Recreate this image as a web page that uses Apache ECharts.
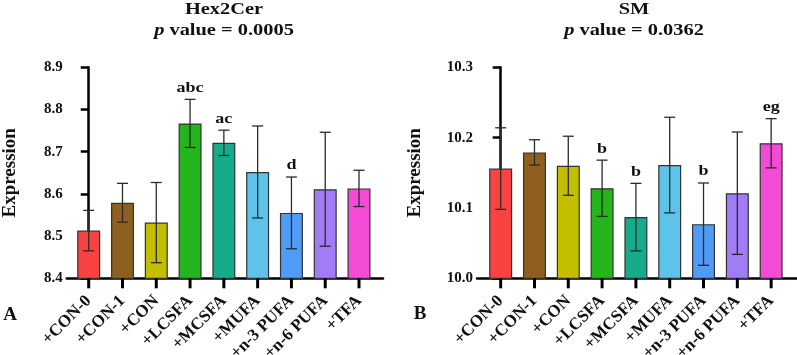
<!DOCTYPE html>
<html>
<head>
<meta charset="utf-8">
<style>
html,body{margin:0;padding:0;background:#fff;}
#chart{width:797px;height:355px;}
</style>
<script src="https://cdn.jsdelivr.net/npm/echarts@6/dist/echarts.min.js"></script>
</head>
<body>
<div id="chart"></div>
<script>
const categories = ['+CON-0','+CON-1','+CON','+LCSFA','+MCSFA','+MUFA','+n-3 PUFA','+n-6 PUFA','+TFA'];
const barColors = ['#F94242','#8E5F1E','#C4BE00','#23B51B','#16AC8B','#5DC3E8','#4F9CF6','#A07CF7','#F44BD7'];

const hexMean = [8.513, 8.579, 8.532, 8.767, 8.721, 8.652, 8.555, 8.611, 8.613];
const hexSD   = [0.048, 0.046, 0.095, 0.057, 0.030, 0.109, 0.085, 0.135, 0.043];
const hexLetters = ['', '', '', 'abc', 'ac', '', 'd', '', ''];
const hexTicks = [8.4, 8.5, 8.6, 8.7, 8.8, 8.9];

const smMean = [10.156, 10.179, 10.160, 10.128, 10.087, 10.161, 10.077, 10.121, 10.192];
const smSD   = [0.058, 0.018, 0.042, 0.040, 0.048, 0.068, 0.0585, 0.087, 0.035];
const smLetters = ['', '', '', 'b', 'b', '', 'b', '', 'eg'];
const smTicks = [10.0, 10.1, 10.2, 10.3];

const FONT = '"Liberation Serif", "Times New Roman", serif';
const idx = categories.map((c, i) => i);

function barData(means) {
  return means.map((v, i) => ({ value: [i, v], itemStyle: { color: barColors[i] } }));
}
function errData(means, sds) {
  return means.map((v, i) => [i, v, sds[i]]);
}
function makeErrRender(letters) {
  return function (params, api) {
    const x = api.value(0), m = api.value(1), e = api.value(2);
    const top = api.coord([x, m + e]);
    const bot = api.coord([x, m - e]);
    const cw = 5.5;
    const st = { stroke: '#2b2b2b', lineWidth: 1.3 };
    const children = [
      { type: 'line', shape: { x1: top[0], y1: top[1], x2: bot[0], y2: bot[1] }, style: st },
      { type: 'line', shape: { x1: top[0] - cw, y1: top[1], x2: top[0] + cw, y2: top[1] }, style: st },
      { type: 'line', shape: { x1: bot[0] - cw, y1: bot[1], x2: bot[0] + cw, y2: bot[1] }, style: st }
    ];
    const lt = letters[params.dataIndex];
    if (lt) {
      children.push({
        type: 'text', x: top[0], y: top[1] - 4, scaleX: 1.2,
        style: {
          text: lt, x: 0, y: 0, align: 'center', verticalAlign: 'bottom',
          font: 'bold 15px ' + FONT, fill: '#111'
        }
      });
    }
    return { type: 'group', children: children };
  };
}

function xAxisCfg(gridIndex, min, max) {
  return {
    type: 'value', gridIndex: gridIndex, min: min, max: max,
    splitLine: { show: false },
    axisLine: { show: true, onZero: false, lineStyle: { color: '#000', width: 2.5 } },
    axisTick: { show: false },
    axisLabel: {
      customValues: idx, rotate: 45, margin: 20,
      formatter: v => categories[Math.round(v)],
      fontFamily: FONT, fontWeight: 'bold', fontSize: 17, color: '#111'
    }
  };
}
function yAxisCfg(gridIndex, ticks, gap) {
  return {
    type: 'value', gridIndex: gridIndex,
    min: ticks[0], max: ticks[ticks.length - 1], interval: 0.1,
    name: 'Expression', nameLocation: 'middle', nameGap: gap,
    nameTextStyle: { fontFamily: FONT, fontWeight: 'bold', fontSize: 19, color: '#111' },
    splitLine: { show: false },
    axisLine: { show: true, lineStyle: { color: '#000', width: 2.5 } },
    axisTick: { show: true, length: 8, lineStyle: { color: '#000', width: 2.5 } },
    axisLabel: {
      margin: 4, formatter: v => v.toFixed(1),
      fontFamily: FONT, fontWeight: 'bold', fontSize: 15, color: '#111'
    }
  };
}

function titleText(x, name, p) {
  return {
    type: 'text', x: x, y: -1, scaleX: 1.2,
    style: {
      text: '{b|' + name + '}\n{i|p}{b| value = ' + p + '}',
      x: 0, y: 0, align: 'center', verticalAlign: 'top',
      rich: {
        b: { fontFamily: FONT, fontWeight: 'bold', fontSize: 17, lineHeight: 21, fill: '#111' },
        i: { fontFamily: FONT, fontWeight: 'bold', fontStyle: 'italic', fontSize: 17, lineHeight: 21, fill: '#111' }
      }
    }
  };
}

const staticGraphics = [
  titleText(224, 'Hex2Cer', '0.0005'),
  titleText(634, 'SM', '0.0362'),
  { type: 'text', x: 10, y: 315, style: { text: 'A', x: 0, y: 0, align: 'center', verticalAlign: 'middle', font: 'bold 19px ' + FONT, fill: '#111' } },
  { type: 'text', x: 420, y: 314, style: { text: 'B', x: 0, y: 0, align: 'center', verticalAlign: 'middle', font: 'bold 19px ' + FONT, fill: '#111' } }
];

const chart = echarts.init(document.getElementById('chart'), null, { renderer: 'canvas' });
chart.setOption({
  animation: false,
  backgroundColor: '#fff',
  grid: [
    { left: 66.7, top: 67.3, width: 316.3, height: 211, outerBoundsMode: 'none', containLabel: false },
    { left: 477, top: 67.3, width: 319.5, height: 211, outerBoundsMode: 'none', containLabel: false }
  ],
  xAxis: [xAxisCfg(0, -0.651, 8.71), xAxisCfg(1, -0.70, 8.75)],
  yAxis: [yAxisCfg(0, hexTicks, 47), yAxisCfg(1, smTicks, 52)],
  graphic: staticGraphics,
  series: [
    {
      type: 'bar', xAxisIndex: 0, yAxisIndex: 0, barWidth: 23,
      itemStyle: { borderColor: '#333', borderWidth: 1.2 },
      data: barData(hexMean)
    },
    {
      type: 'custom', xAxisIndex: 0, yAxisIndex: 0, z: 5, clip: false,
      renderItem: makeErrRender(hexLetters), data: errData(hexMean, hexSD)
    },
    {
      type: 'bar', xAxisIndex: 1, yAxisIndex: 1, barWidth: 23,
      itemStyle: { borderColor: '#333', borderWidth: 1.2 },
      data: barData(smMean)
    },
    {
      type: 'custom', xAxisIndex: 1, yAxisIndex: 1, z: 5, clip: false,
      renderItem: makeErrRender(smLetters), data: errData(smMean, smSD)
    }
  ]
});

// Category tick marks under each x axis, positioned through the axes' own scales.
const tickGraphics = [];
[[0, hexTicks[0]], [1, smTicks[0]]].forEach(([gi, yMin]) => {
  idx.forEach(i => {
    const p = chart.convertToPixel({ xAxisIndex: gi, yAxisIndex: gi }, [i, yMin]);
    tickGraphics.push({
      type: 'line', z: 100,
      shape: { x1: p[0], y1: p[1], x2: p[0], y2: p[1] + 10 },
      style: { stroke: '#000', lineWidth: 3 }
    });
  });
});
chart.setOption({ graphic: staticGraphics.concat(tickGraphics) });
</script>
</body>
</html>
